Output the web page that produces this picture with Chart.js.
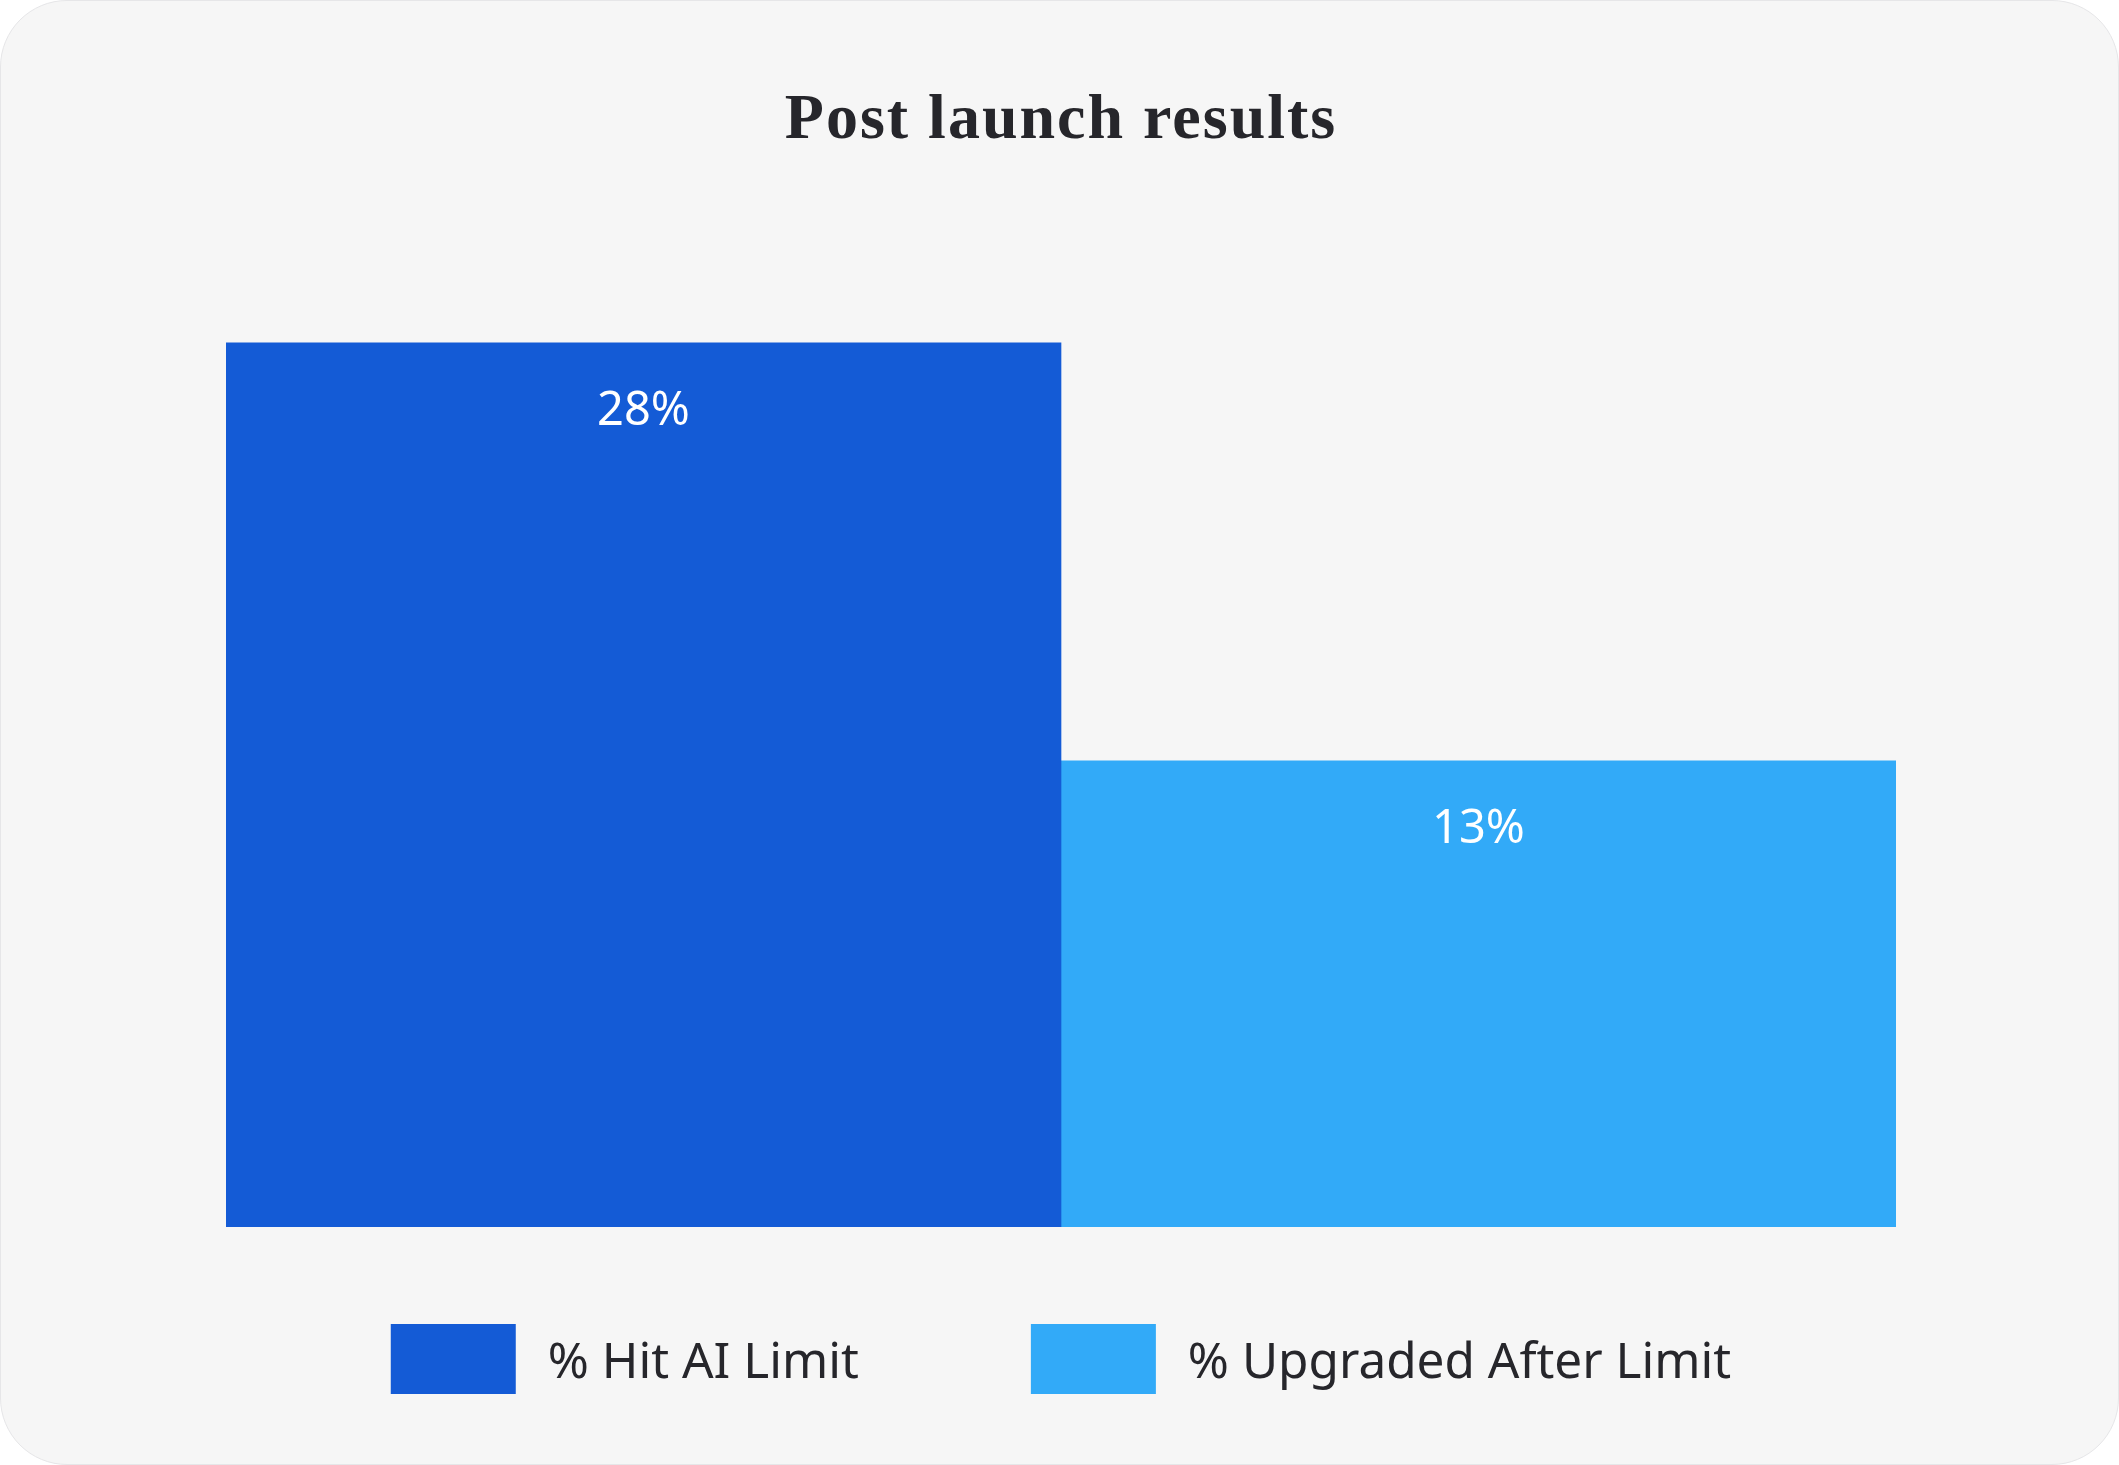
<!DOCTYPE html>
<html>
<head>
<meta charset="utf-8">
<script src="https://cdn.jsdelivr.net/npm/chart.js@4"></script>
<style>
  html, body { margin: 0; padding: 0; background: #ffffff; }
  #card {
    position: absolute; left: 0; top: 0;
    width: 2119px; height: 1465px;
    box-sizing: border-box;
    border: 1px solid #e6e6e8;
    border-radius: 67px;
    background: #f6f6f6;
    overflow: hidden;
  }
  canvas { position: absolute; left: 0; top: 0; }
</style>
</head>
<body>
<div id="card"><canvas id="c" width="2119" height="1465"></canvas></div>
<script>
// ---- data ----
const categories = ['Post launch'];
const seriesNames = ['% Hit AI Limit', '% Upgraded After Limit'];
const hitAiLimit = [28];
const upgradedAfterLimit = [13];
const seriesColors = ['#145BD6', '#32AAF8'];
const titleText = 'Post launch results';
const yMin = -3.72;
const yMax = 30;

// ---- value labels inside bars ----
const barLabels = {
  id: 'barLabels',
  afterDatasetsDraw(chart) {
    const ctx = chart.ctx;
    ctx.save();
    ctx.letterSpacing = '0px';
    ctx.font = '47px "Noto Sans"';
    ctx.fillStyle = '#ffffff';
    ctx.textAlign = 'center';
    ctx.textBaseline = 'middle';
    chart.data.datasets.forEach((ds, i) => {
      const meta = chart.getDatasetMeta(i);
      meta.data.forEach((bar, j) => {
        ctx.fillText(ds.data[j] + '%', bar.x, bar.y + 69);
      });
    });
    ctx.restore();
  }
};

// ---- title letter spacing ----
const titleSpacing = {
  id: 'titleSpacing',
  beforeDraw(chart) { chart.ctx.letterSpacing = '2px'; },
  beforeDatasetsDraw(chart) { chart.ctx.letterSpacing = '0px'; }
};

// ---- custom legend ----
const customLegend = {
  id: 'customLegend',
  afterDraw(chart) {
    const ctx = chart.ctx;
    const boxW = 125, boxH = 70, textGap = 32, itemGap = 172;
    ctx.save();
    ctx.letterSpacing = '0px';
    ctx.font = '49.5px "Noto Sans"';
    const items = chart.data.datasets.map(ds => ({
      text: ds.label, color: ds.backgroundColor, w: ctx.measureText(ds.label).width
    }));
    let total = 0;
    items.forEach((it, i) => { total += boxW + textGap + it.w + (i > 0 ? itemGap : 0); });
    const ca = chart.chartArea;
    let x = (ca.left + ca.right) / 2 - total / 2;
    const top = ca.bottom + 97;
    ctx.textBaseline = 'middle';
    ctx.textAlign = 'left';
    items.forEach((it) => {
      ctx.fillStyle = it.color;
      ctx.fillRect(x, top, boxW, boxH);
      ctx.fillStyle = '#26262B';
      ctx.fillText(it.text, x + boxW + textGap, top + boxH / 2 + 5);
      x += boxW + textGap + it.w + itemGap;
    });
    ctx.restore();
  }
};

new Chart(document.getElementById('c'), {
  type: 'bar',
  data: {
    labels: categories,
    datasets: [
      { label: seriesNames[0], data: hitAiLimit, backgroundColor: seriesColors[0], base: yMin },
      { label: seriesNames[1], data: upgradedAfterLimit, backgroundColor: seriesColors[1], base: yMin }
    ]
  },
  options: {
    responsive: false,
    animation: false,
    devicePixelRatio: 1,
    events: [],
    categoryPercentage: 1,
    barPercentage: 1,
    layout: { padding: { left: 225, right: 224, top: 0, bottom: 239 } },
    scales: {
      x: { display: false },
      y: { display: false, min: yMin, max: yMax }
    },
    plugins: {
      legend: { display: false },
      tooltip: { enabled: false },
      title: {
        display: true,
        text: titleText,
        color: '#26262B',
        font: { family: '"Liberation Serif"', size: 64, weight: 'bold', lineHeight: 1.2 },
        padding: { top: 82, bottom: 127.2 }
      }
    }
  },
  plugins: [titleSpacing, barLabels, customLegend]
});
</script>
</body>
</html>
